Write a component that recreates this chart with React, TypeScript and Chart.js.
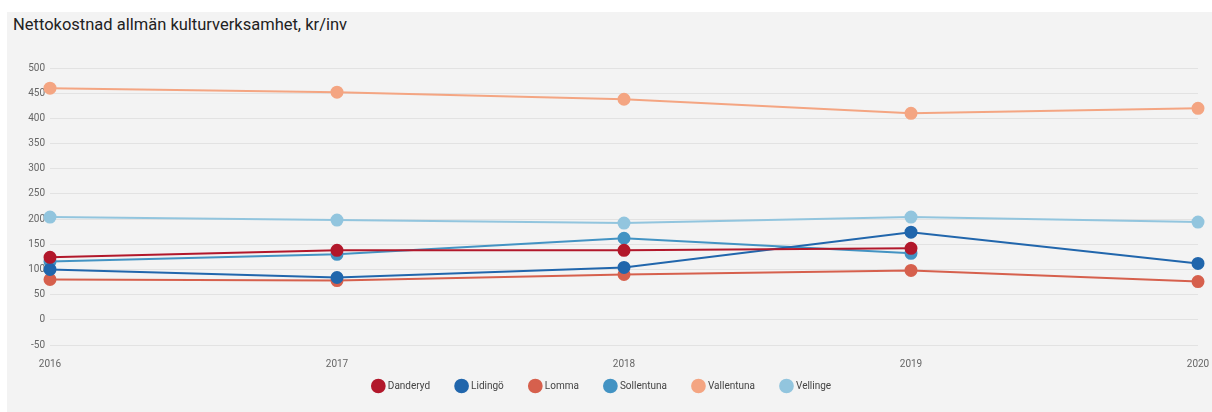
import React, { useEffect, useRef } from "react";
import { Chart, registerables } from "chart.js";

Chart.register(...registerables);

const years = ["2016", "2017", "2018", "2019", "2020"];
const danderyd = [124, 138, 138, 142, null];
const lidingo = [100, 84, 104, 174, 112];
const lomma = [80, 78, 90, 98, 76];
const sollentuna = [116, 130, 162, 132, null];
const vallentuna = [460, 452, 438, 410, 420];
const vellinge = [204, 198, 192, 204, 194];

const seriesNames = ["Danderyd", "Lidingö", "Lomma", "Sollentuna", "Vallentuna", "Vellinge"];
const seriesValues = [danderyd, lidingo, lomma, sollentuna, vallentuna, vellinge];
const seriesColors = ["#b2182b", "#2166ac", "#d6604d", "#4393c3", "#f4a582", "#92c5de"];

const yMin = -50;
const yMax = 500;
const yStep = 50;

export default function App() {
  const ref = useRef<HTMLCanvasElement | null>(null);
  useEffect(() => {
    if (!ref.current) return;
    const chart = new Chart(ref.current, {
      type: "line",
      data: {
        labels: years,
        datasets: seriesNames.map((name, i) => ({
          label: name,
          data: seriesValues[i],
          borderColor: seriesColors[i],
          backgroundColor: seriesColors[i],
          pointBackgroundColor: seriesColors[i],
          pointBorderColor: seriesColors[i],
          pointRadius: 5.5,
          pointHoverRadius: 6,
          borderWidth: 2,
          tension: 0,
          fill: false,
        })),
      },
      options: {
        animation: false,
        responsive: true,
        maintainAspectRatio: false,
        layout: { autoPadding: false, padding: { top: 56, right: 14, left: 0, bottom: 11 } },
        font: { family: "Roboto" },
        plugins: {
          tooltip: { enabled: false },
          legend: {
            position: "bottom",
            labels: {
              usePointStyle: true,
              pointStyle: "circle",
              boxWidth: 9,
              boxHeight: 9,
              padding: 27,
              color: "#444",
              font: { family: "Roboto", size: 10 },
            },
          },
        },
        scales: {
          x: {
            type: "category",
            offset: false,
            grid: { display: false, drawTicks: false },
            border: { display: false },
            afterFit: (s: any) => {
              s.height = 9;
              s.paddingLeft = 0;
              s.paddingRight = 0;
              s._computeLabelArea = () => undefined;
            },
            ticks: {
              color: "#666",
              font: { family: "Roboto", size: 10 },
              padding: 13,
              maxRotation: 0,
              autoSkip: false,
            },
          },
          y: {
            min: yMin,
            max: yMax,
            grid: { color: "#e2e2e2", drawTicks: false, lineWidth: 1 },
            border: { display: false },
            afterFit: (s: any) => {
              s.width = 43;
            },
            ticks: {
              stepSize: yStep,
              color: "#666",
              font: { family: "Roboto", size: 10 },
              padding: 5,
            },
          },
        },
      },
    });
    return () => chart.destroy();
  }, []);

  return (
    <div
      style={{
        position: "fixed",
        left: 7,
        top: 12,
        width: 1205,
        height: 400,
        background: "#f3f3f3",
      }}
    >
      <div
        style={{
          position: "absolute",
          left: 6,
          top: 3,
          fontFamily: "Roboto",
          fontSize: 16.5,
          color: "#222",
          whiteSpace: "nowrap",
        }}
      >
        Nettokostnad allmän kulturverksamhet, kr/inv
      </div>
      <div style={{ position: "absolute", left: 0, top: 0, width: 1205, height: 400 }}>
        <canvas ref={ref} />
      </div>
    </div>
  );
}
